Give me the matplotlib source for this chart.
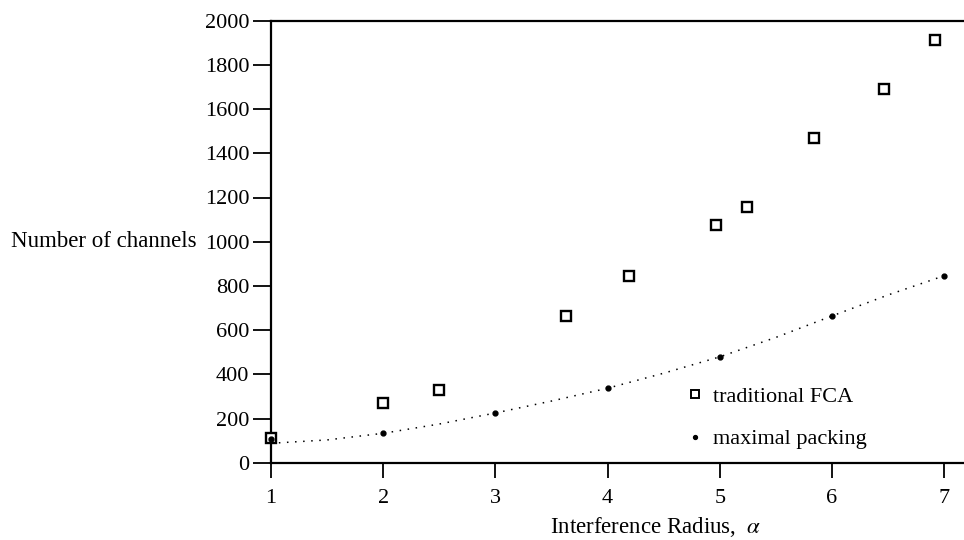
import matplotlib
matplotlib.use("Agg")
import matplotlib.pyplot as plt
from matplotlib.lines import Line2D

# traditional FCA (open squares)
fca_radius = [1.0, 2.0, 2.5, 3.63, 4.19, 4.97, 5.24, 5.84, 6.46, 6.92]
fca_channels = [110, 268, 328, 663, 845, 1076, 1156, 1470, 1690, 1912]

# maximal packing (dots)
pack_radius = [1, 2, 3, 4, 5, 6, 7]
pack_channels = [108, 133, 225, 337, 479, 664, 844]

# dotted curve
curve_radius = [1.07, 1.5, 2, 2.5, 3, 3.5, 4, 4.5, 5, 5.5, 6, 6.5, 7]
curve_channels = [90, 103, 133, 175, 225, 279, 337, 405, 479, 567, 664, 759, 846]

x_ticks = [1, 2, 3, 4, 5, 6, 7]
y_ticks = list(range(0, 2001, 200))

plt.rcParams['font.family'] = ['Liberation Serif', 'DejaVu Serif']
plt.rcParams['mathtext.fontset'] = 'stix'

fig = plt.figure(figsize=(9.64, 5.4), dpi=100)
ax = fig.add_axes([271 / 964, 1 - 462.7 / 540, 1 - 271 / 964, (462.7 - 20.7) / 540])

ax.plot(curve_radius, curve_channels, color='black', lw=1.1,
        linestyle=(0, (1, 4.3)), zorder=1)
ax.plot(fca_radius, fca_channels, linestyle='none', marker='s', ms=7,
        mfc='white', mec='black', mew=1.7, zorder=3, clip_on=False)
ax.plot(pack_radius, pack_channels, linestyle='none', marker='o', ms=3.5,
        color='black', zorder=4, clip_on=False)

ax.set_xlim(1, 1 + (964 - 271) / 112.2)
ax.set_ylim(0, 2000)
ax.set_xticks(x_ticks)
ax.set_yticks(y_ticks)

for side in ['left', 'bottom', 'top']:
    ax.spines[side].set_linewidth(1.6)
ax.spines['right'].set_visible(False)

ax.tick_params(axis='both', direction='out', width=1.3,
               labelsize=16, colors='black')
ax.tick_params(axis='y', length=13, pad=2.5)
ax.tick_params(axis='x', length=11, pad=8)

ax.set_xlabel(r'Interference Radius,  $\alpha$', fontsize=16.5,
              ha='center', va='center')
ax.xaxis.set_label_coords((656 - 271) / (964 - 271), (462.7 - 527) / 442)
ax.set_ylabel('Number of channels', fontsize=16.5, rotation=0,
              ha='right', va='center')
ax.yaxis.set_label_coords((197 - 271) / (964 - 271), 0.5)

handles = [
    Line2D([], [], linestyle='none', marker='s', ms=5.5, mfc='white',
           mec='black', mew=1.4),
    Line2D([], [], linestyle='none', marker='o', ms=2.8, color='black'),
]
ax.legend(handles, ['traditional FCA', 'maximal packing'], frameon=False,
          fontsize=16, loc='upper left', borderpad=0, borderaxespad=0,
          handlelength=0.75, handletextpad=0.4, labelspacing=1.0,
          numpoints=1, bbox_to_anchor=(687 / 964, 1 - 386 / 540),
          bbox_transform=fig.transFigure)

fig.savefig('out.png', dpi=100, facecolor='white')
